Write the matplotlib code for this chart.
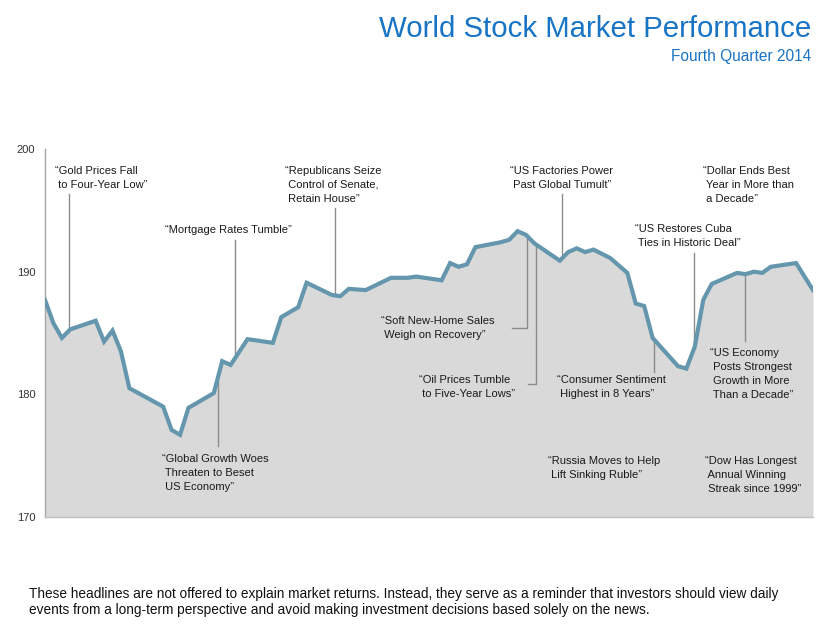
import numpy as np
import matplotlib
matplotlib.use("Agg")
import matplotlib.pyplot as plt

plt.rcParams['font.family'] = ['Liberation Sans', 'DejaVu Sans']

# day of the quarter (Oct 1 = 0) and index level
days = [0, 1, 2, 3, 6, 7, 8, 9, 10, 14, 15, 16, 17, 20, 21, 22, 24, 27, 28, 30,
        31, 34, 35, 36, 38, 41, 43, 44, 47, 48, 49, 50, 51, 54, 55, 56, 57, 58,
        61, 62, 63, 64, 65, 67, 68, 69, 70, 71, 72, 75, 76, 77, 78, 79, 81, 82,
        83, 84, 85, 86, 89, 91]
values = [187.7, 185.8, 184.6, 185.3, 186.0, 184.3, 185.2, 183.5, 180.5, 179.0,
          177.1, 176.7, 178.9, 180.1, 182.7, 182.4, 184.5, 184.2, 186.3, 187.1,
          189.1, 188.1, 188.0, 188.6, 188.5, 189.5, 189.5, 189.6, 189.3, 190.7,
          190.4, 190.6, 192.0, 192.4, 192.6, 193.3, 193.0, 192.3, 190.9, 191.6,
          191.9, 191.6, 191.8, 191.1, 190.5, 189.9, 187.4, 187.2, 184.6, 182.3,
          182.1, 183.9, 187.7, 189.0, 189.6, 189.9, 189.8, 190.0, 189.9, 190.4,
          190.7, 188.5]

yticks = [170, 180, 190, 200]

# headline, text x (day), text top (level), leader x (day), leader end (level) or None
headlines = [
    ("\u201cGold Prices Fall\n to Four-Year Low\u201d", 1.2, 198.65, 2.85, 196.3),
    ("\u201cMortgage Rates Tumble\u201d", 14.2, 193.8, 22.5, 192.6),
    ("\u201cRepublicans Seize\n Control of Senate,\n Retain House\u201d", 28.4, 198.65, 34.4, 195.2),
    ("\u201cUS Factories Power\n Past Global Tumult\u201d", 55.1, 198.65, 61.3, 196.3),
    ("\u201cDollar Ends Best\n Year in More than\n a Decade\u201d", 78.0, 198.65, None, None),
    ("\u201cUS Restores Cuba\n Ties in Historic Deal\u201d", 69.9, 193.85, 76.9, 191.5),
    ("\u201cGlobal Growth Woes\n Threaten to Beset\n US Economy\u201d", 13.9, 175.1, 20.5, 175.8),
    ("\u201cSoft New-Home Sales\n Weigh on Recovery\u201d", 39.8, 186.4, None, None),
    ("\u201cOil Prices Tumble\n to Five-Year Lows\u201d", 44.3, 181.6, None, None),
    ("\u201cConsumer Sentiment\n Highest in 8 Years\u201d", 60.7, 181.6, 72.2, 181.8),
    ("\u201cUS Economy\n Posts Strongest\n Growth in More\n Than a Decade\u201d", 78.8, 183.8, 83.0, 184.35),
    ("\u201cRussia Moves to Help\n Lift Sinking Ruble\u201d", 59.6, 175.0, None, None),
    ("\u201cDow Has Longest\n Annual Winning\n Streak since 1999\u201d", 78.2, 175.0, None, None),
]

# elbow leaders: (horizontal start day, corner day, level)
elbows = [(55.3, 57.1, 185.4), (57.2, 58.2, 180.85)]

fig = plt.figure(figsize=(8.3, 6.39), dpi=100)
ax = fig.add_axes([0.0542, 0.1909, 0.9253, 0.5759])

ax.fill_between(days, values, 170, color='#d9d9d9', lw=0, zorder=1)
ax.plot(days, values, color='#6497ad', lw=3, solid_joinstyle='miter', zorder=4)

leader_c = '#8c8c8c'
for txt, tx, ty, lx, ly in headlines:
    ax.text(tx, ty, txt, ha='left', va='top', fontsize=8, color='#1a1a1a',
            linespacing=1.5, zorder=5)
    if lx is not None:
        yl = np.interp(lx, days, values)
        ax.plot([lx, lx], [ly, yl], color=leader_c, lw=1, zorder=3)

for x0, x1, yv in elbows:
    yl = np.interp(x1, days, values)
    ax.plot([x0, x1, x1], [yv, yv, yl], color=leader_c, lw=1, zorder=3)

ax.set_xlim(0, 91)
ax.set_ylim(170, 200)
ax.set_yticks(yticks)
ax.set_xticks([])
ax.tick_params(axis='y', length=0, pad=7, labelsize=8, labelcolor='#333333')
ax.patch.set_alpha(0)
for s in ['top', 'right']:
    ax.spines[s].set_visible(False)
ax.spines['left'].set_color('#a6a6a6')
ax.spines['bottom'].set_color('#bfbfbf')
ax.spines['left'].set_linewidth(1)
ax.spines['bottom'].set_linewidth(1)

fig.text(0.977, 0.955, "World Stock Market Performance", ha='right', va='center',
         fontsize=21.2, color='#1874c4')
fig.text(0.977, 0.911, "Fourth Quarter 2014", ha='right', va='center',
         fontsize=11.2, color='#1874c4')

fig.text(0.035, 0.058,
         "These headlines are not offered to explain market returns. Instead, they serve as a reminder that investors should view daily\n"
         "events from a long-term perspective and avoid making investment decisions based solely on the news.",
         ha='left', va='center', fontsize=9.85, color='#111111', linespacing=1.2)

fig.savefig('out.png', dpi=100)
